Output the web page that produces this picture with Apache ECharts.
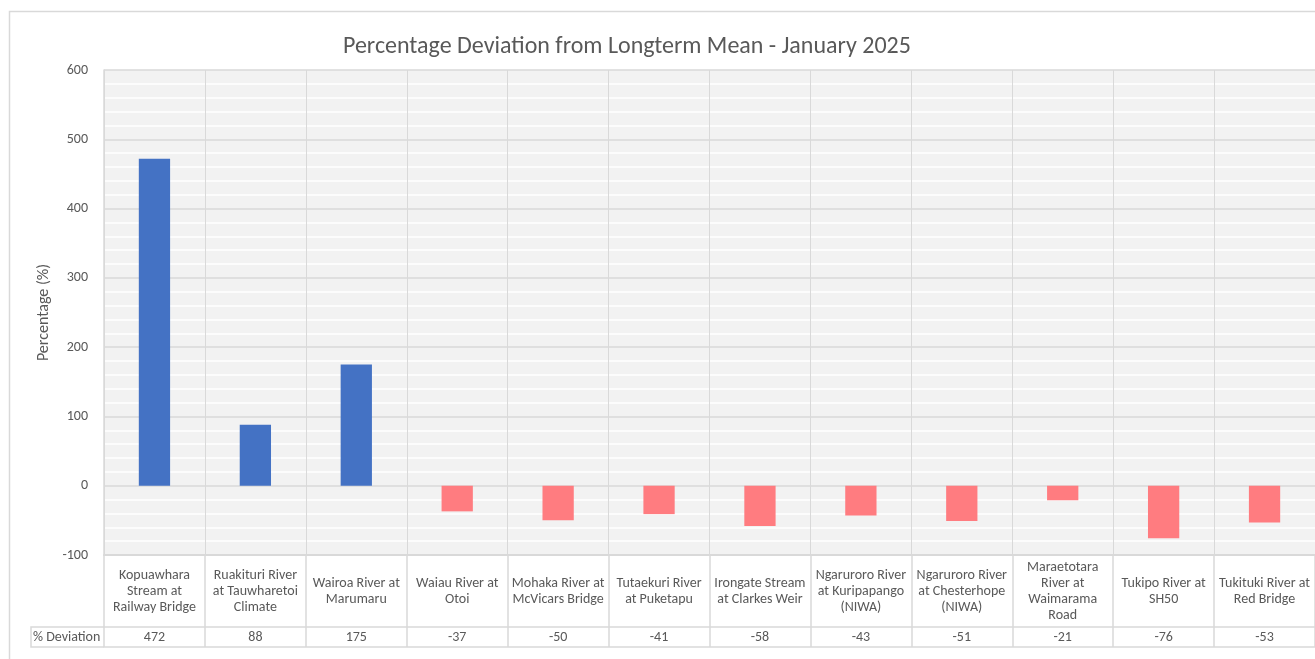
<!DOCTYPE html>
<html>
<head>
<meta charset="utf-8">
<script src="https://cdn.jsdelivr.net/npm/echarts@6/dist/echarts.min.js"></script>
<style>
html,body{margin:0;padding:0;background:#fff;}
#chart{width:1315px;height:659px;}
</style>
</head>
<body>
<div id="chart"></div>
<script>
const title = 'Percentage Deviation from Longterm Mean - January 2025';
const categories = [
  'Kopuawhara\nStream at\nRailway Bridge',
  'Ruakituri River\nat Tauwharetoi\nClimate',
  'Wairoa River at\nMarumaru',
  'Waiau River at\nOtoi',
  'Mohaka River at\nMcVicars Bridge',
  'Tutaekuri River\nat Puketapu',
  'Irongate Stream\nat Clarkes Weir',
  'Ngaruroro River\nat Kuripapango\n(NIWA)',
  'Ngaruroro River\nat Chesterhope\n(NIWA)',
  'Maraetotara\nRiver at\nWaimarama\nRoad',
  'Tukipo River at\nSH50',
  'Tukituki River at\nRed Bridge'
];
const deviation = [472, 88, 175, -37, -50, -41, -58, -43, -51, -21, -76, -53];
const seriesName = '% Deviation';
const yTicks = { min: -100, max: 600, interval: 100 };
const yName = 'Percentage (%)';

const FONT = "Carlito, Calibri, 'Open Sans', 'Noto Sans', sans-serif";
const TXT = '#595959';
const LINE = '#d9d9d9';
const posColor = '#4472C4';
const negColor = '#FF7C80';

const gridLeft = 104, gridTop = 70, gridBottom = 104, gridRight = -2;
const labelRowH = 72, valueRowH = 20;
const plotBottomY = 659 - gridBottom;

const chart = echarts.init(document.getElementById('chart'), null, {renderer: 'canvas'});
const option = {
  backgroundColor: '#ffffff',
  animation: false,
  title: {
    text: title,
    left: 338, top: 30,
    textStyle: { fontFamily: FONT, fontSize: 24, fontWeight: 'normal', color: TXT }
  },
  grid: {
    left: gridLeft, top: gridTop, bottom: gridBottom, right: gridRight,
    show: true, backgroundColor: '#f2f2f2', borderWidth: 0
  },
  xAxis: [
    {
      type: 'category', data: categories, position: 'bottom',
      axisLine: { show: true, onZero: false, lineStyle: { color: LINE, width: 2 } },
      axisTick: { show: true, interval: 0, alignWithLabel: false, length: labelRowH + valueRowH, lineStyle: { color: LINE, width: 1.5 } },
      splitLine: { show: true, interval: 0, lineStyle: { color: LINE, width: 1 } },
      axisLabel: { interval: 0, margin: labelRowH / 2, verticalAlign: 'middle', lineHeight: 16,
                   fontFamily: FONT, fontSize: 14, color: TXT }
    },
    {
      type: 'category', data: deviation.map(String), position: 'bottom', offset: labelRowH,
      axisLine: { show: true, onZero: false, lineStyle: { color: LINE, width: 1.5 } },
      axisTick: { show: false },
      axisLabel: { interval: 0, margin: valueRowH / 2, verticalAlign: 'middle',
                   fontFamily: FONT, fontSize: 14, color: TXT }
    },
    {
      type: 'category', data: categories, position: 'bottom', offset: labelRowH + valueRowH,
      axisLine: { show: true, onZero: false, lineStyle: { color: LINE, width: 1.5 } },
      axisTick: { show: false }, axisLabel: { show: false }
    }
  ],
  yAxis: {
    type: 'value', min: yTicks.min, max: yTicks.max, interval: yTicks.interval,
    name: yName, nameLocation: 'middle', nameGap: 52, nameRotate: 90,
    nameTextStyle: { fontFamily: FONT, fontSize: 16, color: TXT },
    axisLine: { show: true, lineStyle: { color: LINE, width: 1.5 } },
    axisTick: { show: false },
    axisLabel: { margin: 16, fontFamily: FONT, fontSize: 14, color: TXT },
    splitLine: { show: true, lineStyle: { color: LINE, width: 1.5 } },
    minorTick: { show: false, splitNumber: 5 },
    minorSplitLine: { show: true, lineStyle: { color: '#ffffff', width: 1.5 } }
  },
  series: [{
    name: seriesName, type: 'bar', xAxisIndex: 0, barWidth: '31%',
    data: deviation.map(v => ({ value: v, itemStyle: { color: v >= 0 ? posColor : negColor } }))
  }],
  graphic: [
    { type: 'rect', silent: true, z: -1,
      shape: { x: 9.5, y: 11.5, width: 1400, height: 700 },
      style: { fill: 'none', stroke: LINE, lineWidth: 1.5 } },
    { type: 'polyline', silent: true,
      shape: { points: [[gridLeft, plotBottomY + labelRowH], [31, plotBottomY + labelRowH], [31, plotBottomY + labelRowH + valueRowH], [gridLeft, plotBottomY + labelRowH + valueRowH]] },
      style: { fill: 'none', stroke: LINE, lineWidth: 1.5 } },
    { type: 'text', silent: true,
      style: { x: 33, y: plotBottomY + labelRowH + valueRowH / 2, text: seriesName, verticalAlign: 'middle',
               font: '14px ' + FONT, fill: TXT } }
  ]
};
chart.setOption(option);
</script>
</body>
</html>
